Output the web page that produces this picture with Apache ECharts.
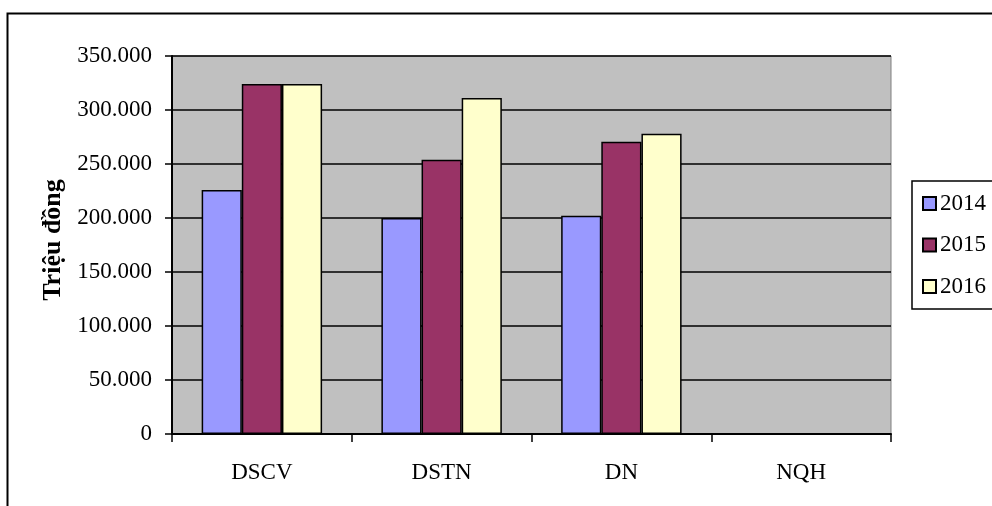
<!DOCTYPE html>
<html><head><meta charset="utf-8">
<script src="https://cdn.jsdelivr.net/npm/echarts@6/dist/echarts.min.js"></script>
<style>html,body{margin:0;padding:0;background:#fff}#c{width:992px;height:506px}</style>
</head><body><div id="c"></div>
<script>
const categories = ['DSCV', 'DSTN', 'DN', 'NQH'];
const years = ['2014', '2015', '2016'];
const v2014 = [226000, 200000, 202000, null];
const v2015 = [324000, 254000, 270500, null];
const v2016 = [324000, 311000, 278000, null];
const yTicks = [0, 50000, 100000, 150000, 200000, 250000, 300000, 350000];
const colors = ['#9999FF', '#993366', '#FFFFCC'];

const chart = echarts.init(document.getElementById('c'));
const font = 'Liberation Serif';
const fmt = v => v === 0 ? '0' : (v / 1000).toFixed(0) + '.000';
const seriesData = [v2014, v2015, v2016];
chart.setOption({
  animation: false,
  textStyle: { fontFamily: font },
  graphic: [{
    type: 'rect', shape: { x: 7.5, y: 13.5, width: 1000, height: 600 },
    style: { fill: 'none', stroke: '#000', lineWidth: 2 }, z: -10
  }],
  grid: { left: 172, top: 56, width: 719, height: 378, backgroundColor: '#C0C0C0', show: true, borderColor: '#808080', borderWidth: 1 },
  legend: {
    data: years, orient: 'vertical', left: 912, top: 181,
    itemWidth: 13, itemHeight: 13, itemGap: 18.5,
    borderColor: '#000', borderWidth: 1.5, padding: [11, 12, 11, 10],
    textStyle: { fontFamily: font, fontSize: 23, color: '#000', padding: [0, 0, 0, -1] },
    icon: 'rect'
  },
  xAxis: {
    type: 'category', data: categories,
    axisLine: { lineStyle: { color: '#000', width: 2 } },
    axisTick: { show: true, length: 8, lineStyle: { color: '#000', width: 1.5 } },
    axisLabel: { fontFamily: font, fontSize: 23, color: '#000', margin: 27 }
  },
  yAxis: {
    type: 'value', min: 0, max: 350000, interval: 50000,
    name: 'Triệu đồng', nameLocation: 'middle', nameGap: 106, nameRotate: 90,
    nameTextStyle: { fontFamily: font, fontSize: 26, fontWeight: 'bold', color: '#000', padding: [0, 0, 0, 10] },
    axisLine: { show: true, lineStyle: { color: '#000', width: 2 } },
    axisTick: { show: true, length: 7, lineStyle: { color: '#000', width: 1.5 } },
    axisLabel: { fontFamily: font, fontSize: 23, color: '#000', margin: 20, formatter: v => yTicks.includes(v) ? fmt(v) : '' },
    splitLine: { lineStyle: { color: '#000', width: 1.5 } }
  },
  series: years.map((y, i) => ({
    name: y, type: 'bar', data: seriesData[i],
    barGap: '0%', barCategoryGap: '33%',
    itemStyle: { color: colors[i], borderColor: '#000', borderWidth: 1.5 }
  }))
});
</script></body></html>
